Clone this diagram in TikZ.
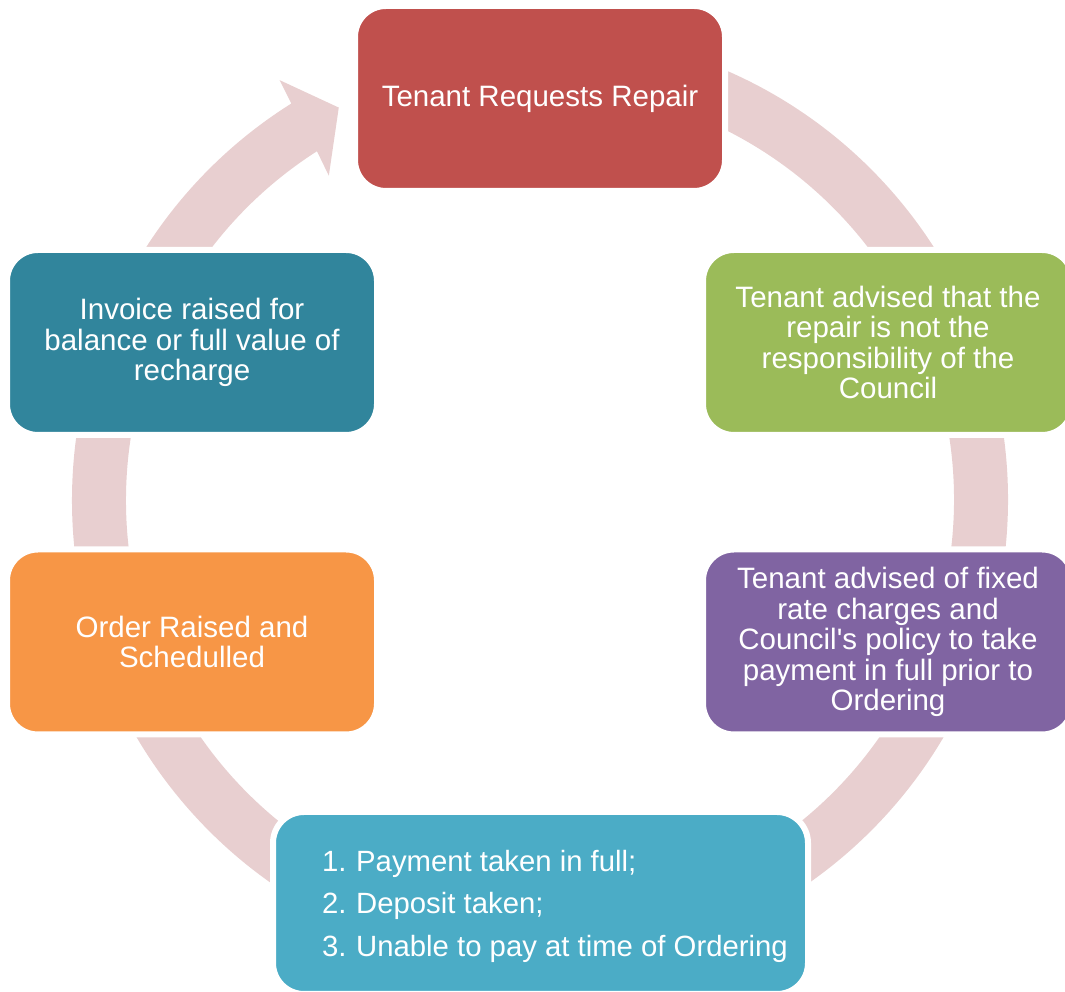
\documentclass[tikz,border=0pt]{standalone}
\usepackage{fontspec}
\setmainfont{Liberation Sans}
\definecolor{ringc}{HTML}{E8CFD0}
\definecolor{cRed}{HTML}{C0504D}
\definecolor{cGreen}{HTML}{9BBB59}
\definecolor{cPurple}{HTML}{8064A2}
\definecolor{cBlue}{HTML}{4BACC6}
\definecolor{cOrange}{HTML}{F79646}
\definecolor{cTeal}{HTML}{31859C}
\begin{document}
\begin{tikzpicture}[x=1pt,y=1pt,
  stepbox/.style={draw=white, line width=6pt, rounded corners=31pt,
    minimum width=370pt, minimum height=185pt, inner sep=0pt,
    text=white, align=center, font=\fontsize{29.5}{30.5}\selectfont},
]
\useasboundingbox (0,0) rectangle (1065,992);
\clip (0,0) rectangle (1065,992);
% ring with arrowhead
\begin{scope}[shift={(540,492)}]
\fill[ringc] (85:468) arc[start angle=85, end angle=-237.9, radius=468]
  -- (121.8:494) -- (117.15:441) -- (123.07:387) -- (-237.4:414)
  arc[start angle=-237.4, end angle=85, radius=414] -- cycle;
\end{scope}
% boxes
\node[stepbox, fill=cRed] (req) at (540,893.5) {\raisebox{-3pt}{Tenant Requests Repair}};
\node[stepbox, fill=cGreen] (notresp) at (888,649.5)
  {Tenant advised that the\\repair is not the\\responsibility of the\\Council};
\node[stepbox, fill=cPurple] (fixed) at (888,350)
  {Tenant advised of fixed\\rate charges and\\Council\textquotesingle s policy to take\\payment in full prior to\\Ordering};
\node[stepbox, fill=cBlue, minimum width=535pt, minimum height=182pt] (pay) at (540.5,89) {};
\node[text=white, align=left, anchor=west, inner sep=0pt,
  font=\fontsize{29.3}{42.5}\selectfont] (paytext) at (322,86)
  {\makebox[34pt][l]{1.}Payment taken in full;\\
   \makebox[34pt][l]{2.}Deposit taken;\\
   \makebox[34pt][l]{3.}Unable to pay at time of Ordering};
\node[stepbox, fill=cOrange] (order) at (192,350) {Order Raised and\\Schedulled};
\node[stepbox, fill=cTeal] (invoice) at (192,649.5)
  {Invoice raised for\\balance or full value of\\recharge};
\end{tikzpicture}
\end{document}
